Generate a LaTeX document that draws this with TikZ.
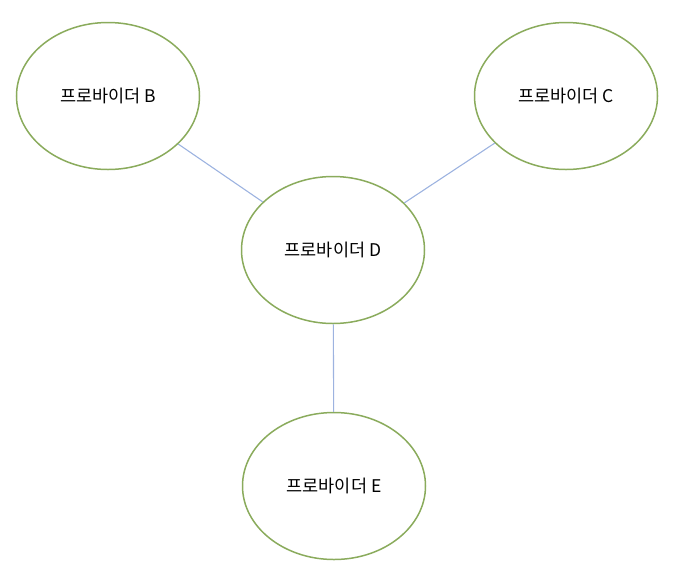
\documentclass[tikz,border=0pt]{standalone}
\usepackage{fontspec}
\newfontfamily\kr{Noto Sans CJK KR}
\usetikzlibrary{shapes.geometric}
\definecolor{egreen}{HTML}{8AAB5C}
\definecolor{eblue}{HTML}{9DB3E0}
\begin{document}
\begin{tikzpicture}[x=1pt,y=-1pt,
  prov/.style={ellipse,draw=egreen,line width=1.5pt,minimum width=183pt,minimum height=147pt,inner sep=0pt,font=\kr\fontsize{17.5}{20}\selectfont},
  link/.style={draw=eblue,line width=1.1pt}]
\useasboundingbox (0,0) rectangle (680,582);
\node[prov] (B) at (108,96) {프로바이더 B};
\node[prov] (C) at (566,96) {프로바이더 C};
\node[prov] (D) at (333,250) {프로바이더 D};
\node[prov] (E) at (334,486) {프로바이더 E};
\draw[link] (B) -- (D);
\draw[link] (C) -- (D);
\draw[link] (D) -- (E);
\end{tikzpicture}
\end{document}
